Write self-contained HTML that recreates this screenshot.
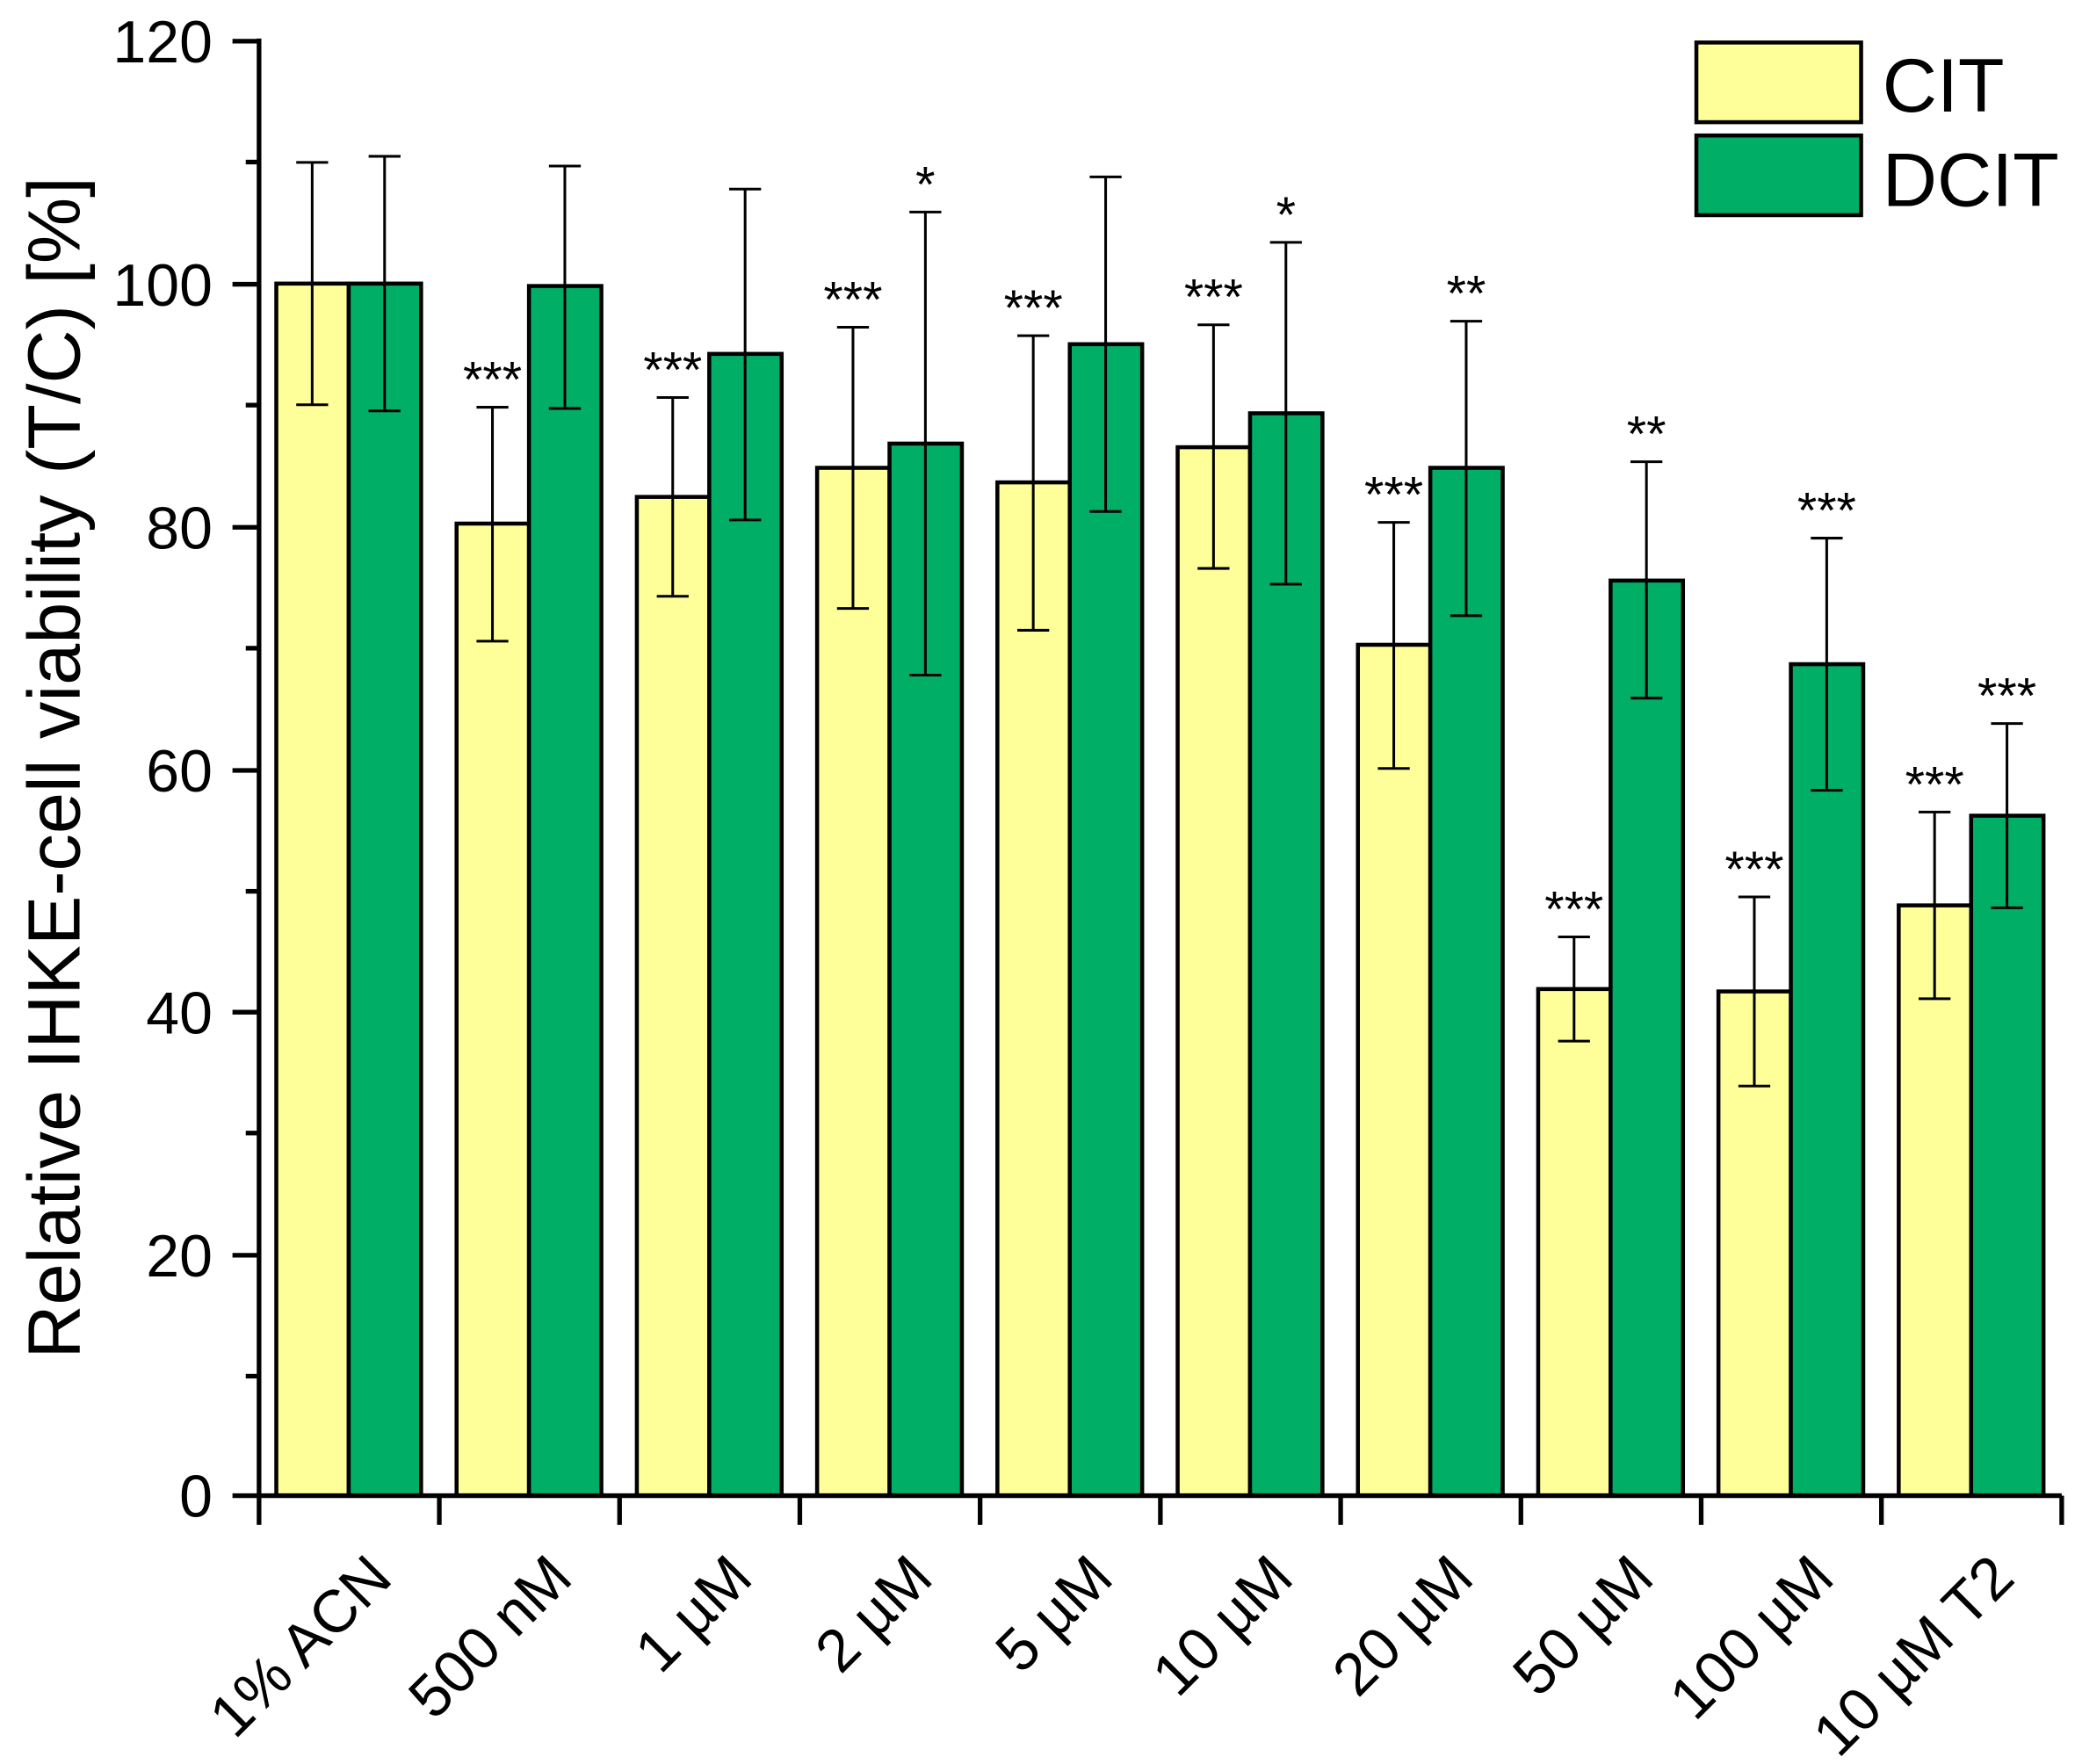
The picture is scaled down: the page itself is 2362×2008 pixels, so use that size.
<!DOCTYPE html>
<html><head><meta charset="utf-8"><style>html,body{margin:0;padding:0;background:#fff}svg{display:block}</style></head>
<body>
<svg width="2362" height="2008" viewBox="0 0 1562 1328" preserveAspectRatio="none" xmlns="http://www.w3.org/2000/svg" font-family="Liberation Sans, Arial, sans-serif">
<g id="bars" stroke="#000" stroke-width="3"></g>
<g id="err" stroke="#000" stroke-width="2" fill="none"></g>
<g id="stars" font-size="38" text-anchor="middle" fill="#000"></g>
<g stroke="#000" stroke-width="3.5" fill="none">
<line x1="195" y1="29" x2="195" y2="1128"/>
<line x1="175" y1="1126" x2="1552" y2="1126"/>
<line x1="175" y1="31" x2="195" y2="31"/>
<line x1="175" y1="214" x2="195" y2="214"/>
<line x1="175" y1="397" x2="195" y2="397"/>
<line x1="175" y1="580" x2="195" y2="580"/>
<line x1="175" y1="762" x2="195" y2="762"/>
<line x1="175" y1="945" x2="195" y2="945"/>
<line x1="185" y1="122" x2="195" y2="122"/>
<line x1="185" y1="305" x2="195" y2="305"/>
<line x1="185" y1="488" x2="195" y2="488"/>
<line x1="185" y1="671" x2="195" y2="671"/>
<line x1="185" y1="853" x2="195" y2="853"/>
<line x1="185" y1="1036" x2="195" y2="1036"/>
</g>
<g id="xt" stroke="#000" stroke-width="3.5"></g>
<g font-size="45" text-anchor="end" fill="#000">
<text x="160" y="47">120</text>
<text x="160" y="230">100</text>
<text x="160" y="413">80</text>
<text x="160" y="596">60</text>
<text x="160" y="778">40</text>
<text x="160" y="961">20</text>
<text x="160" y="1142">0</text>
</g>
<text transform="translate(60,578) rotate(-90)" font-size="56" text-anchor="middle">Relative IHKE-cell viability (T/C) [%]</text>
<g id="xl" font-size="45" text-anchor="end"></g>
<rect x="1277" y="32" width="124" height="60" fill="#FFFF99" stroke="#000" stroke-width="3"/>
<rect x="1277" y="102" width="124" height="60" fill="#00AE66" stroke="#000" stroke-width="3"/>
<text x="1417" y="84" font-size="57">CIT</text>
<text x="1417" y="155" font-size="57">DCIT</text>
<script>
var d=[[100,90,110,'',100,89.5,110.5,''],[80.2,70.5,89.8,'***',99.8,89.7,109.7,''],[82.4,74.2,90.6,'***',94.2,80.5,107.8,''],[84.8,73.2,96.4,'***',86.8,67.7,105.9,'*'],[83.6,71.4,95.7,'***',95,81.2,108.8,''],[86.5,76.5,96.6,'***',89.3,75.2,103.4,'*'],[70.2,60,80.3,'***',84.8,72.6,96.9,'**'],[41.8,37.5,46.1,'***',75.5,65.8,85.3,'**'],[41.6,33.8,49.4,'***',68.6,58.2,79,'***'],[48.7,41,56.4,'***',56.1,48.5,63.7,'***']];
var labs=['1% ACN','500 nM','1 µM','2 µM','5 µM','10 µM','20 µM','50 µM','100 µM','10 µM T2'];
function Y(v){return 1126-v*9.125;}
var ns='http://www.w3.org/2000/svg';
function el(p,t,a,txt){var e=document.createElementNS(ns,t);for(var k in a)e.setAttribute(k,a[k]);if(txt)e.textContent=txt;document.getElementById(p).appendChild(e);}
var gw=135.7;
for(var i=0;i<10;i++){var x0=195+i*gw+13;
 for(var j=0;j<2;j++){var v=d[i][j*4],lo=d[i][j*4+1],hi=d[i][j*4+2],s=d[i][j*4+3];var x=x0+j*54.5,cx=x+27;
  el('bars','rect',{x:x,y:Y(v),width:54.5,height:1126-Y(v),fill:j?'#00AE66':'#FFFF99'});
  el('err','path',{d:'M'+cx+' '+Y(lo)+'V'+Y(hi)+'M'+(cx-12)+' '+Y(hi)+'h24M'+(cx-12)+' '+Y(lo)+'h24'});
  if(s)el('stars','text',{x:cx,y:Y(hi)-8},s);}
 el('xt','line',{x1:195+i*gw,y1:1126,x2:195+i*gw,y2:1148});
 var c=195+i*gw+68;
 el('xl','text',{transform:'translate('+(c+34)+',1190) rotate(-45)'},labs[i]);}
el('xt','line',{x1:195+10*gw,y1:1126,x2:195+10*gw,y2:1148});
</script>
</svg>
</body></html>
